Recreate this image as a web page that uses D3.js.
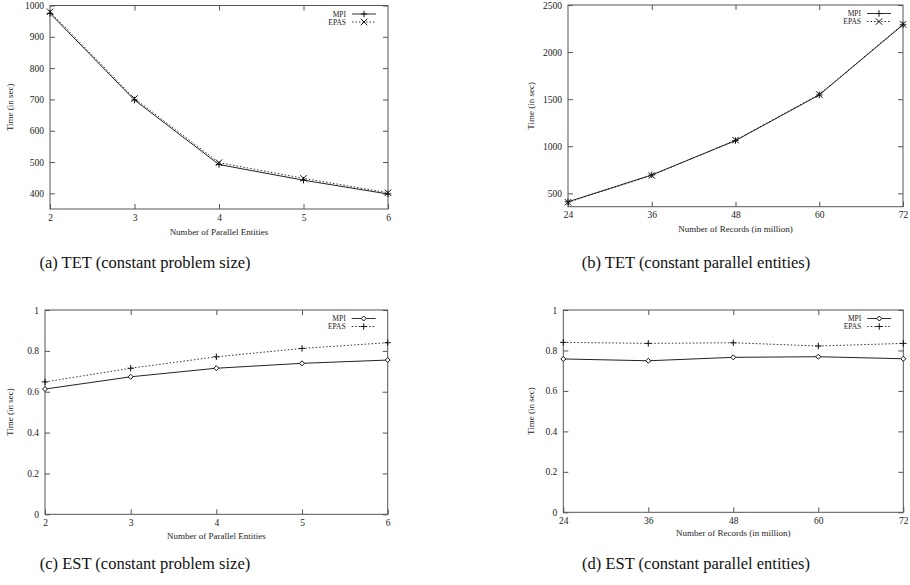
<!DOCTYPE html>
<html><head><meta charset="utf-8">
<script src="https://cdn.jsdelivr.net/npm/d3@7"></script>
<style>body{margin:0;background:#fff}svg{display:block}</style>
</head><body>
<svg id="c" width="910" height="585"></svg>
<script>
const entities = [2, 3, 4, 5, 6];
const records = [24, 36, 48, 60, 72];
const tetSizeMPI  = [975, 698, 492, 442, 398];
const tetSizeEPAS = [980, 703, 498, 448, 402];
const tetEntMPI   = [410, 695, 1060, 1545, 2290];
const tetEntEPAS  = [405, 690, 1065, 1550, 2295];
const estSizeMPI  = [0.613, 0.673, 0.715, 0.739, 0.755];
const estSizeEPAS = [0.648, 0.715, 0.771, 0.812, 0.84];
const estEntMPI   = [0.758, 0.749, 0.766, 0.769, 0.759];
const estEntEPAS  = [0.840, 0.835, 0.838, 0.822, 0.835];
const ticksTetSize = [400, 500, 600, 700, 800, 900, 1000];
const ticksTetEnt = [500, 1000, 1500, 2000, 2500];
const ticksEst = [0, 0.2, 0.4, 0.6, 0.8, 1];
const captions = ["(a) TET (constant problem size)", "(b) TET (constant parallel entities)",
                  "(c) EST (constant problem size)", "(d) EST (constant parallel entities)"];
const xLabels = ["Number of Parallel Entities", "Number of Records (in million)"];
const yLabel = "Time (in sec)";
const seriesNames = ["MPI", "EPAS"];

const svg = d3.select("#c");
const FONT = "'Liberation Serif', 'DejaVu Serif', serif";
const frameCol = "#555";

function marker(g, type, x, y, col) {
  const s = 3.2;
  if (type === "plus") {
    g.append("path").attr("d", `M${x-s},${y}H${x+s}M${x},${y-s}V${y+s}`).attr("stroke", col).attr("stroke-width", 1).attr("fill", "none");
  } else if (type === "cross") {
    g.append("path").attr("d", `M${x-s},${y-s}L${x+s},${y+s}M${x-s},${y+s}L${x+s},${y-s}`).attr("stroke", col).attr("stroke-width", 1).attr("fill", "none");
  } else {
    g.append("path").attr("d", `M${x-2.5},${y}L${x},${y-2.5}L${x+2.5},${y}L${x},${y+2.5}Z`).attr("stroke", col).attr("stroke-width", 1).attr("fill", "#fff");
  }
}

function panel(c) {
  const g = svg.append("g");
  const x = d3.scaleLinear().domain([c.xs[0], c.xs[c.xs.length-1]]).range([c.l, c.r]);
  const y = d3.scaleLinear().domain(c.yd).range([c.b, c.t]);
  g.append("rect").attr("x", c.l).attr("y", c.t).attr("width", c.r - c.l).attr("height", c.b - c.t)
    .attr("fill", "none").attr("stroke", frameCol).attr("stroke-width", 1);
  const tl = 5;
  const ax = g.append("g").attr("transform", `translate(0,${c.b})`)
    .call(d3.axisBottom(x).tickValues(c.xs).tickSize(-tl).tickPadding(5).tickFormat(d3.format("d")));
  const axT = g.append("g").attr("transform", `translate(0,${c.t})`)
    .call(d3.axisTop(x).tickValues(c.xs.slice(1, -1)).tickSize(-tl).tickFormat(""));
  const ay = g.append("g").attr("transform", `translate(${c.l},0)`)
    .call(d3.axisLeft(y).tickValues(c.yt).tickSize(-tl).tickPadding(6).tickFormat(c.fmt));
  const ayR = g.append("g").attr("transform", `translate(${c.r},0)`)
    .call(d3.axisRight(y).tickValues(c.yt).tickSize(-tl).tickFormat(""));
  [ax, axT, ay, ayR].forEach(a => {
    a.select(".domain").remove();
    a.selectAll("line").attr("stroke", frameCol);
    a.selectAll("text").attr("font-family", FONT).attr("font-size", 9.5).attr("fill", "#222");
  });
  g.append("text").attr("transform", `translate(${c.yl},${(c.t + c.b) / 2}) rotate(-90)`)
    .attr("text-anchor", "middle").attr("font-family", FONT).attr("font-size", 9).attr("fill", "#222").text(yLabel);
  g.append("text").attr("x", (c.l + c.r) / 2).attr("y", c.xlY).attr("text-anchor", "middle")
    .attr("font-family", FONT).attr("font-size", 9).attr("fill", "#222").text(c.xlab);
  const line = d3.line().x((d, i) => x(c.xs[i])).y(d => y(d));
  g.append("path").datum(c.s2).attr("d", line).attr("fill", "none").attr("stroke", "#333")
    .attr("stroke-width", 1).attr("stroke-dasharray", "1.5,2");
  g.append("path").datum(c.s1).attr("d", line).attr("fill", "none").attr("stroke", "#222").attr("stroke-width", 1);
  c.s1.forEach((d, i) => marker(g, c.m1, x(c.xs[i]), y(d), "#111"));
  c.s2.forEach((d, i) => marker(g, c.m2, x(c.xs[i]), y(d), "#111"));
  const ly = [c.t + 8.5, c.t + 16.5];
  [[c.m1, null], [c.m2, "1.5,2"]].forEach((m, i) => {
    g.append("text").attr("x", c.r - 42).attr("y", ly[i] + 2.6).attr("text-anchor", "end")
      .attr("font-family", FONT).attr("font-size", 7.5).attr("fill", "#222").text(seriesNames[i]);
    g.append("line").attr("x1", c.r - 36).attr("x2", c.r - 12).attr("y1", ly[i]).attr("y2", ly[i])
      .attr("stroke", "#333").attr("stroke-width", 1).attr("stroke-dasharray", m[1]);
    marker(g, m[0], c.r - 24, ly[i], "#111");
  });
  svg.append("text").attr("x", c.capX).attr("y", c.capY).attr("text-anchor", "middle")
    .attr("font-family", FONT).attr("font-size", 16.5).attr("fill", "#111").text(c.cap);
}

panel({xs: entities, s1: tetSizeMPI, s2: tetSizeEPAS, m1: "plus", m2: "cross", yd: [350, 1000], yt: ticksTetSize,
  fmt: d3.format("d"), l: 50, r: 388, t: 5.5, b: 209, yl: 13, xlY: 235, xlab: xLabels[0], cap: captions[0], capX: 145, capY: 268});
panel({xs: records, s1: tetEntMPI, s2: tetEntEPAS, m1: "plus", m2: "cross", yd: [358, 2500], yt: ticksTetEnt,
  fmt: d3.format("d"), l: 568, r: 903, t: 5, b: 206.7, yl: 534, xlY: 232, xlab: xLabels[1], cap: captions[1], capX: 696, capY: 268});
panel({xs: entities, s1: estSizeMPI, s2: estSizeEPAS, m1: "diamond", m2: "plus", yd: [0, 1], yt: ticksEst,
  fmt: d3.format("~g"), l: 45, r: 387.7, t: 310, b: 514.3, yl: 13, xlY: 539, xlab: xLabels[0], cap: captions[2], capX: 145, capY: 569});
panel({xs: records, s1: estEntMPI, s2: estEntEPAS, m1: "diamond", m2: "plus", yd: [0, 1], yt: ticksEst,
  fmt: d3.format("~g"), l: 563.3, r: 903.3, t: 310, b: 512.3, yl: 534, xlY: 536, xlab: xLabels[1], cap: captions[3], capX: 696, capY: 569});
</script>
</body></html>
